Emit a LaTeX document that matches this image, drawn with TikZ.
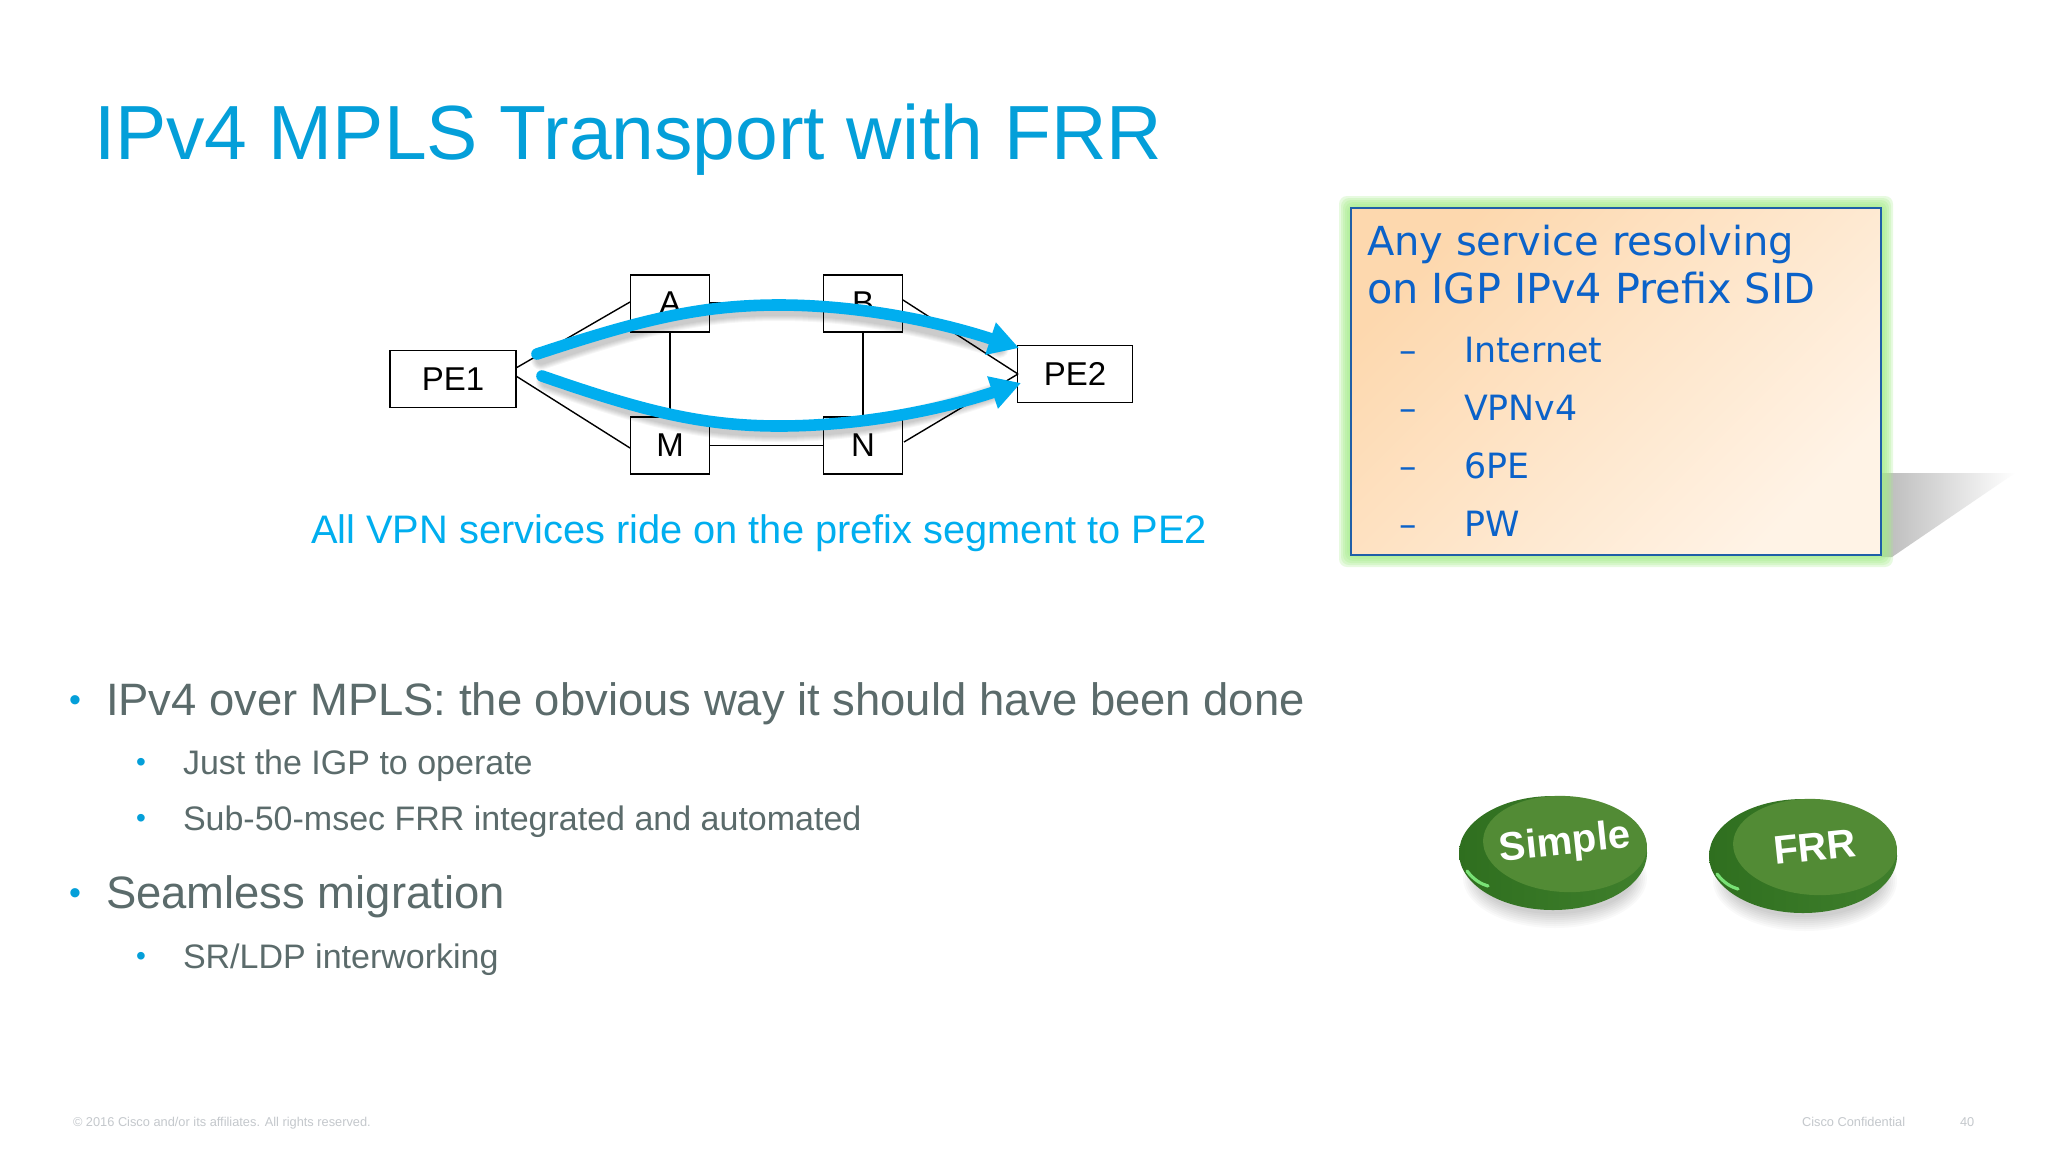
\documentclass[tikz,border=0pt]{standalone}
\usepackage{fontspec}
\setmainfont{Liberation Sans}
\newfontfamily\boxfont{DejaVu Sans}
\usetikzlibrary{arrows.meta,calc}
\definecolor{ciscoblue}{HTML}{049FD9}
\definecolor{capblue}{HTML}{00AEEF}
\definecolor{bodygray}{HTML}{5B6B6B}
\definecolor{boxblue}{HTML}{0B62C9}
\definecolor{boxedge}{HTML}{1F5FA8}
\definecolor{peachA}{HTML}{FDD8AE}
\definecolor{peachB}{HTML}{FFF3E6}
\definecolor{glowgreen}{HTML}{A6EE8A}
\definecolor{rimdark}{HTML}{2F6F1F}
\definecolor{rimmid}{HTML}{3F7F2C}
\definecolor{faceg}{HTML}{528B35}
\definecolor{foot}{HTML}{C4C8CC}
\tikzset{
  x=0.5pt,y=-0.5pt,
  router/.style={draw=black,fill=white,line width=0.7pt,minimum width=#1*0.5pt,minimum height=28.5pt,inner sep=0pt,font=\fontsize{16.5}{18}\selectfont,text=black},
  link/.style={draw=black,line width=0.7pt},
  flow/.style={draw=capblue,line width=5.8pt,line cap=round,-{Triangle[length=15pt,width=16pt]}},
  flowshade/.style={draw=black,line width=#1,opacity=0.035,line cap=round},
  txt/.style={anchor=base west,inner sep=0pt,outer sep=0pt},
  bulletA/.style={txt,text=bodygray,font=\fontsize{22.7}{26}\selectfont},
  bulletB/.style={txt,text=bodygray,font=\fontsize{17}{20}\selectfont},
  dotmark/.style={anchor=base,inner sep=0pt,text=ciscoblue},
  footer/.style={txt,text=foot,font=\fontsize{6.4}{8}\selectfont},
  boxhead/.style={txt,text=boxblue,font=\boxfont\fontsize{#1}{24}\selectfont},
  boxitem/.style={txt,text=boxblue,font=\boxfont\fontsize{17.4}{20}\selectfont},
}
\newcommand{\gbutton}[5]{%
  % #1 x, #2 y, #3 node name, #4 text, #5 rotation
  \begin{scope}[shift={(#1,#2)}]
    \foreach \w in {0,2,...,14}{\fill[black,opacity=0.022] (-10,34) ellipse[x radius=78+\w,y radius=36+\w];}
    \shade[left color=rimdark,right color=rimmid] (-12,9) ellipse[x radius=94,y radius=57];
    \draw[green!45!white,opacity=0.8,line width=1.6pt,line cap=round] (-98,27) .. controls (-91,36) and (-84,40) .. (-77,42);
    \fill[faceg,rotate=-3] (0,0) ellipse[x radius=82,y radius=48];
    \node[font=\bfseries\fontsize{20}{24}\selectfont,text=white,inner sep=0pt,rotate=#5] (#3) at (0,0) {#4};
  \end{scope}}
\begin{document}
\begin{tikzpicture}
\useasboundingbox (0,0) rectangle (2048,1152);
\fill[white] (0,0) rectangle (2048,1152);

\node[txt,text=ciscoblue,font=\fontsize{38.4}{44}\selectfont] (title) at (94,159) {IPv4 MPLS Transport with FRR};

% routers
\node[router=126] (PE1) at (453,379) {PE1};
\node[router=79] (A) at (670,303.5) {A};
\node[router=79] (B) at (863,303.5) {B};
\node[router=79] (M) at (670,445.5) {M};
\node[router=79] (N) at (863,445.5) {N};
\node[router=115] (PE2) at (1075,374) {PE2};

\coordinate (pe1up) at (516,368);
\coordinate (pe1dn) at (516,376);
\coordinate (aleft) at (630,302);
\coordinate (mleft) at (630,448);
\coordinate (bright) at (903,300);
\coordinate (nright) at (904,442);
\coordinate (pe2l) at (1018,374);
\draw[link] (pe1up) -- (aleft);
\draw[link] (pe1dn) -- (mleft);
\draw[link] (A.east |- 0,303) -- (B.west |- 0,303);
\draw[link] (M.east) -- (N.west);
\draw[link] (A.south) -- (M.north);
\draw[link] (B.south) -- (N.north);
\draw[link] (bright) -- (pe2l);
\draw[link] (nright) -- (pe2l);

% flows
\coordinate (s1) at (537,354);
\coordinate (t1) at (1019,348);
\coordinate (s2) at (542,376);
\coordinate (t2) at (1021,383);
\foreach \w in {5,6,7,8,9,10}{
  \draw[flowshade=\w pt] ($(s1)+(4,6)$) .. controls (640,326) and (700,311) .. (779,311) .. controls (860,311) and (930,328) .. ($(t1)+(-20,0)$);
  \draw[flowshade=\w pt] ($(s2)+(4,6)$) .. controls (640,416) and (700,432) .. (779,432) .. controls (860,432) and (930,416) .. ($(t2)+(-20,8)$);
}
\draw[flow] (s1) .. controls (640,320) and (700,305) .. (779,305) .. controls (860,305) and (940,322) .. (t1);
\draw[flow] (s2) .. controls (640,410) and (700,426) .. (779,426) .. controls (860,426) and (940,410) .. (t2);

\node[txt,text=capblue,font=\fontsize{19.9}{24}\selectfont] (caption) at (311,543) {All VPN services ride on the prefix segment to PE2};

% service box
\shade[left color=black!27,right color=white] (1881,473) -- (2015,473) -- (1892,557) -- (1881,557) -- cycle;
\foreach \w in {0,2,...,12}{\fill[glowgreen,opacity=0.26,rounded corners=4pt] ({1351-\w},{208-\w}) rectangle ({1881+\w},{555+\w});}
\draw[boxedge,line width=0.8pt,left color=peachA,right color=peachB,shading angle=45] (1351,208) rectangle (1881,555);
\node[boxhead=20] (h1) at (1367,255) {Any service resolving};
\node[boxhead=20.7] (h2) at (1367,303) {on IGP IPv4 Prefix SID};
\foreach \yy/\lab/\nm in {362/Internet/i1,420/VPNv4/i2,478/6PE/i3,536/PW/i4}{
  \node[boxitem] (\nm d) at (1399,\yy) {–};
  \node[boxitem] (\nm) at (1464,\yy) {\lab};
}

% bullets
\node[dotmark,font=\fontsize{17}{20}\selectfont] (d1) at (75,711) {•};
\node[bulletA] (b1) at (106,715) {IPv4 over MPLS: the obvious way it should have been done};
\node[dotmark,font=\fontsize{14}{20}\selectfont] (d2) at (141,771) {•};
\node[bulletB] (b2) at (183,774) {Just the IGP to operate};
\node[dotmark,font=\fontsize{14}{20}\selectfont] (d3) at (141,827) {•};
\node[bulletB] (b3) at (183,830) {Sub-50-msec FRR integrated and automated};
\node[dotmark,font=\fontsize{17}{20}\selectfont] (d4) at (75,904) {•};
\node[bulletA] (b4) at (106,908) {Seamless migration};
\node[dotmark,font=\fontsize{14}{20}\selectfont] (d5) at (141,965) {•};
\node[bulletB] (b5) at (183,968) {SR/LDP interworking};

% buttons
\gbutton{1565}{844}{simple}{Simple}{6}
\gbutton{1815}{847}{frr}{FRR}{6}

% footer
\node[footer] (f1) at (73,1126) {© 2016 Cisco and/or its affiliates. All rights reserved.};
\node[footer] (f2) at (1802,1126) {Cisco Confidential};
\node[footer] (f3) at (1960,1126) {40};
\end{tikzpicture}
\end{document}
